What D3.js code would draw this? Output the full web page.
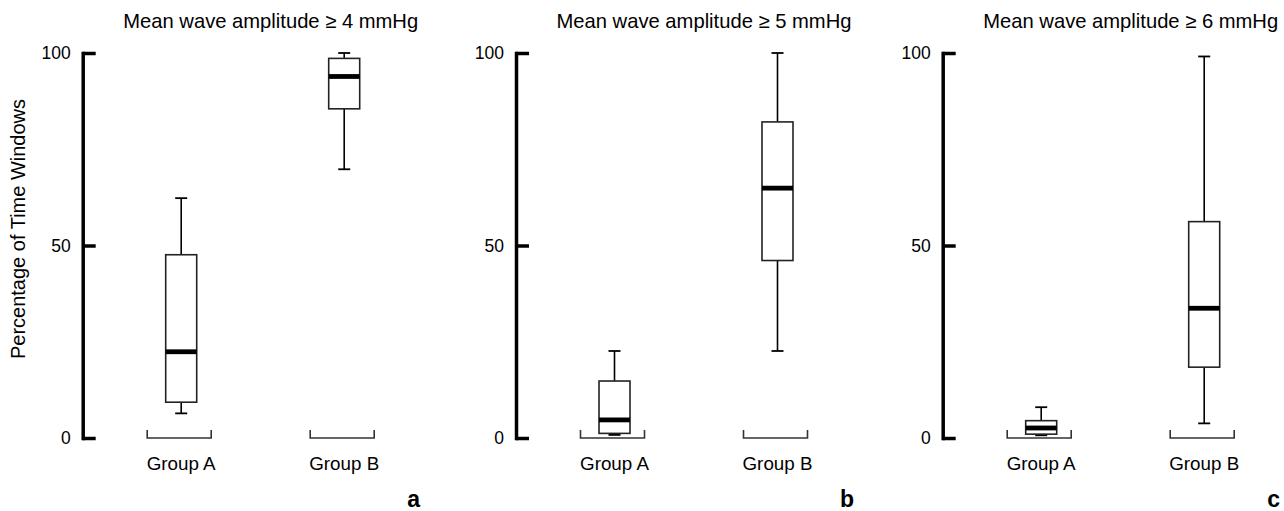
<!DOCTYPE html>
<html><head><meta charset="utf-8">
<script src="https://cdn.jsdelivr.net/npm/d3@7"></script>
<style>
html,body{margin:0;padding:0;background:#fff;}
svg{display:block;}
text{font-family:"Liberation Sans",Arial,Helvetica,sans-serif;fill:#000;}
</style></head>
<body>
<svg id="chart" width="1284" height="511"></svg>
<script>
// ---- data ----
const panelLetters = ["a", "b", "c"];
const titles = ["Mean wave amplitude \u2265 4 mmHg", "Mean wave amplitude \u2265 5 mmHg", "Mean wave amplitude \u2265 6 mmHg"];
const groups = ["Group A", "Group B"];
const yTicks = [0, 50, 100];
const yLabel = "Percentage of Time Windows";
// per panel: [Group A, Group B]
const whiskerLow  = [[6.4, 69.8], [0.8, 22.6], [0.7, 3.8]];
const q1          = [[9.3, 85.5], [1.2, 46.1], [1.0, 18.4]];
const median      = [[22.4, 93.9], [4.7, 64.9], [2.6, 33.7]];
const q3          = [[47.6, 98.6], [14.8, 82.1], [4.5, 56.2]];
const whiskerHigh = [[62.3, 100], [22.6, 100], [8.0, 99.1]];

// ---- layout ----
const svg = d3.select("#chart");
const panelX = [82.7, 516, 942.7];
const y = d3.scaleLinear().domain([0, 100]).range([438, 53]);
const boxW = 31, capW = 12, bracketW = 64, bracketH = 8;

panelLetters.forEach((letter, p) => {
  const g = svg.append("g").attr("transform", `translate(${panelX[p]},0)`);
  const x = d3.scalePoint().domain(groups).range([98.5, 261.5]);

  // axis
  const ax = g.append("g").call(d3.axisLeft(y).tickValues(yTicks).tickSize(-13).tickSizeOuter(0).tickPadding(12).tickFormat(d3.format("d")));
  ax.select(".domain").attr("stroke", "#000").attr("stroke-width", 3.5).attr("stroke-linecap", "square");
  ax.selectAll(".tick line").attr("stroke", "#000").attr("stroke-width", 3.5);
  ax.selectAll(".tick text").style("font-size", "17.5px").attr("fill", "#000");

  // title
  g.append("text").attr("x", 188).attr("y", 28).attr("text-anchor", "middle")
    .style("font-size", "20.2px").text(titles[p]);

  // panel letter
  g.append("text").attr("x", 331).attr("y", 507).attr("text-anchor", "middle")
    .style("font-size", "23px").style("font-weight", "bold").text(letter);

  groups.forEach((grp, i) => {
    const cx = x(grp);
    // whiskers
    g.append("line").attr("x1", cx).attr("x2", cx).attr("y1", y(whiskerHigh[p][i])).attr("y2", y(q3[p][i]))
      .attr("stroke", "#000").attr("stroke-width", 1.6);
    g.append("line").attr("x1", cx).attr("x2", cx).attr("y1", y(q1[p][i])).attr("y2", y(whiskerLow[p][i]))
      .attr("stroke", "#000").attr("stroke-width", 1.6);
    [whiskerHigh[p][i], whiskerLow[p][i]].forEach(v => {
      g.append("line").attr("x1", cx - capW / 2).attr("x2", cx + capW / 2).attr("y1", y(v)).attr("y2", y(v))
        .attr("stroke", "#000").attr("stroke-width", 1.8);
    });
    // box
    g.append("rect").attr("x", cx - boxW / 2).attr("y", y(q3[p][i])).attr("width", boxW)
      .attr("height", y(q1[p][i]) - y(q3[p][i])).attr("fill", "#fff").attr("stroke", "#222").attr("stroke-width", 1.6);
    // median
    g.append("line").attr("x1", cx - boxW / 2).attr("x2", cx + boxW / 2).attr("y1", y(median[p][i])).attr("y2", y(median[p][i]))
      .attr("stroke", "#000").attr("stroke-width", 4.8);
    // bracket
    const bx = cx - 2;
    g.append("path")
      .attr("d", `M${bx - bracketW / 2},${y(0) - bracketH}V${y(0)}H${bx + bracketW / 2}V${y(0) - bracketH}`)
      .attr("fill", "none").attr("stroke", "#333").attr("stroke-width", 1.6);
    // group label
    g.append("text").attr("x", cx).attr("y", 470).attr("text-anchor", "middle")
      .style("font-size", "18.8px").text(grp);
  });
});

// y label
svg.append("text").attr("transform", "translate(24.5,229) rotate(-90)").attr("text-anchor", "middle")
  .style("font-size", "20px").text(yLabel);
</script>
</body></html>
